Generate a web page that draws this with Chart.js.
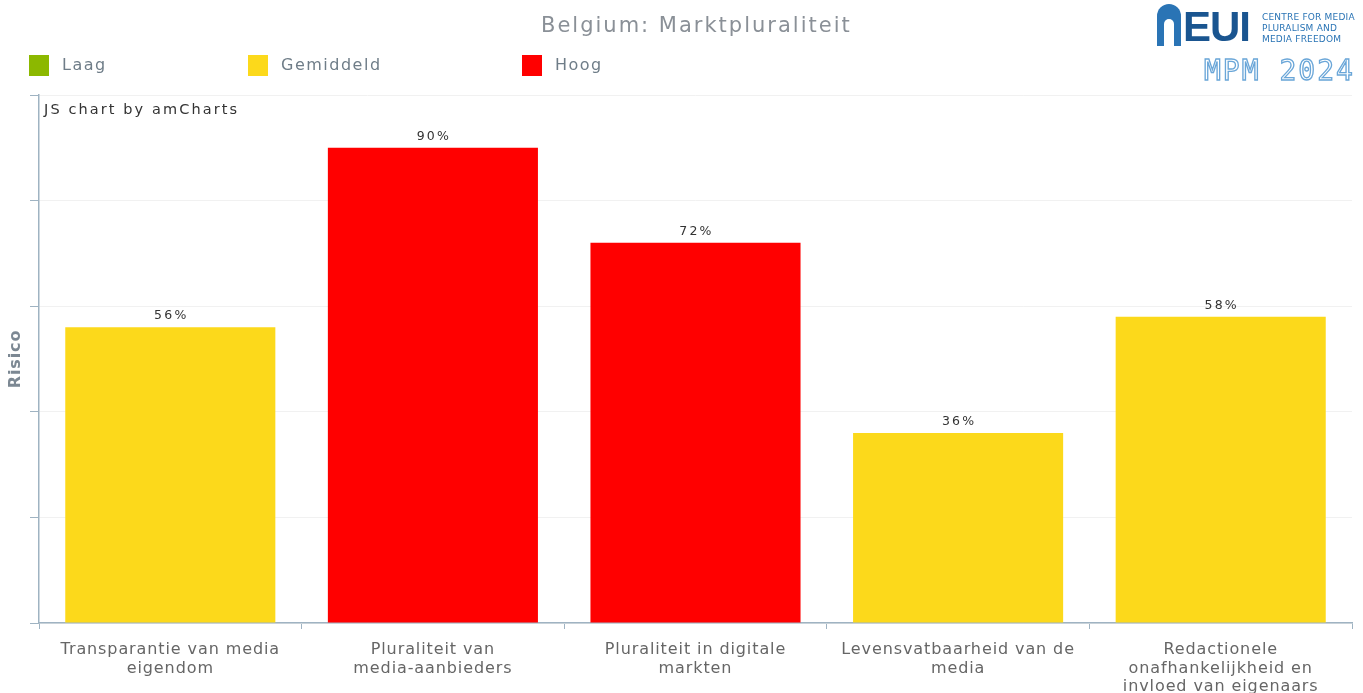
<!DOCTYPE html>
<html>
<head>
<meta charset="utf-8">
<script src="https://cdn.jsdelivr.net/npm/chart.js@4.4.0/dist/chart.umd.min.js"></script>
<style>
  body { margin: 0; background: #fff; font-family: "DejaVu Sans", sans-serif; }
  #wrap { position: relative; width: 1363px; height: 693px; overflow: hidden; }
  canvas { position: absolute; left: 0; top: 0; }
  .title { position: absolute; left: 541px; top: 13px; font-size: 21px; color: #8a9097; letter-spacing: 2px; white-space: nowrap; }
  .leg { position: absolute; top: 55px; font-size: 16px; color: #6f7d88; letter-spacing: 1.5px; }
  .leg span { display: inline-block; width: 20px; height: 21px; vertical-align: middle; margin-right: 13px; }
  .credit { position: absolute; left: 44px; top: 101px; font-size: 14.5px; color: #333; letter-spacing: 2.1px; white-space: nowrap; }
  .arch { position: absolute; left: 1157px; top: 4px; width: 24px; height: 42px; background: #2a74b5; border-radius: 12px 12px 0 0; }
  .arch i { position: absolute; left: 7px; top: 15px; width: 10px; height: 27px; background: #fff; border-radius: 5px 5px 0 0; }
  .eui { position: absolute; left: 1183px; top: 3px; font: bold 42px "Liberation Sans", sans-serif; color: #1a5590; letter-spacing: -1px; }
  .cmpf { position: absolute; left: 1262px; top: 12px; font-size: 9px; line-height: 11px; color: #2a74b5; letter-spacing: 0.2px; }
  .mpm { position: absolute; left: 1204px; top: 54px; font: 28px "DejaVu Sans Mono", monospace; color: #fff; -webkit-text-stroke: 1.3px #6aa6d8; letter-spacing: 2px; white-space: nowrap; }
</style>
</head>
<body>
<div id="wrap">
  <canvas id="c" width="1363" height="693"></canvas>
  <div class="title">Belgium: Marktpluraliteit</div>
  <div class="leg" style="left:29px"><span style="background:#8cb800"></span>Laag</div>
  <div class="leg" style="left:248px"><span style="background:#fcd91b"></span>Gemiddeld</div>
  <div class="leg" style="left:522px"><span style="background:#ff0000"></span>Hoog</div>
  <div class="credit">JS chart by amCharts</div>
  <div class="arch"><i></i></div>
  <div class="eui">EUI</div>
  <div class="cmpf">CENTRE FOR MEDIA<br>PLURALISM AND<br>MEDIA FREEDOM</div>
  <div class="mpm">MPM 2024</div>
</div>
<script>
const categories = [
    ['Transparantie van media', 'eigendom'],
    ['Pluraliteit van', 'media-aanbieders'],
    ['Pluraliteit in digitale', 'markten'],
    ['Levensvatbaarheid van de', 'media'],
    ['Redactionele', 'onafhankelijkheid en', 'invloed van eigenaars']
]
const laag = [null, null, null, null, null]
const gemiddeld = [56, null, null, 36, 58]
const hoog = [null, 90, 72, null, null]
const y_ticks = [0, 20, 40, 60, 80, 100]

const axis_color = '#9fb3c2'

// amCharts draws its text a little spread out
const spacing = {
    id: 'spacing',
    beforeDraw(chart) { chart.ctx.letterSpacing = '0.9px' }
}

// labels like "90%" above each bar
const value_labels = {
    id: 'value_labels',
    afterDatasetsDraw(chart) {
        const ctx = chart.ctx
        ctx.save()
        ctx.font = '12.5px "DejaVu Sans", sans-serif'
        ctx.fillStyle = '#333'
        ctx.textAlign = 'center'
        ctx.textBaseline = 'bottom'
        ctx.letterSpacing = '2.2px'
        chart.data.datasets.forEach((ds, i) => {
            chart.getDatasetMeta(i).data.forEach((bar, j) => {
                if (ds.data[j] == null) return
                ctx.fillText(ds.data[j] + '%', bar.x + 1, bar.y - 5)
            })
        })
        ctx.restore()
    }
}

function make_dataset(label, values, color) {
    return {
        label: label,
        data: values,
        backgroundColor: color,
        borderWidth: 0,
        barPercentage: 0.8,
        categoryPercentage: 1.0,
        grouped: false
    }
}

new Chart(document.getElementById('c'), {
    type: 'bar',
    data: {
        labels: categories,
        datasets: [
            make_dataset('Laag', laag, '#8cb800'),
            make_dataset('Gemiddeld', gemiddeld, '#fcd91b'),
            make_dataset('Hoog', hoog, '#ff0000')
        ]
    },
    options: {
        responsive: false,
        animation: false,
        layout: { padding: { top: 95, right: 11, left: 0, bottom: 0 } },
        plugins: {
            legend: { display: false },
            tooltip: { enabled: false }
        },
        scales: {
            x: {
                grid: { drawOnChartArea: false, color: axis_color, tickLength: 6, offset: true },
                border: { color: axis_color, width: 1.5 },
                ticks: {
                    color: '#666',
                    font: { family: 'DejaVu Sans', size: 16, lineHeight: 1.15 },
                    maxRotation: 0,
                    autoSkip: false,
                    padding: 12
                },
                afterFit(scale) { scale.height = 70 }
            },
            y: {
                min: 0,
                max: 100,
                afterBuildTicks(scale) { scale.ticks = y_ticks.map(v => ({ value: v })) },
                grid: { color: '#f1f1f1', tickColor: axis_color, tickLength: 9 },
                border: { color: axis_color, width: 1.5 },
                ticks: { display: false },
                title: {
                    display: true,
                    text: 'Risico',
                    color: '#7c8893',
                    font: { family: 'DejaVu Sans', size: 16, weight: 'bold' },
                    padding: { top: 6, bottom: 0 }
                },
                afterFit(scale) { scale.width = 39 }
            }
        }
    },
    plugins: [spacing, value_labels]
})
</script>
</body>
</html>
